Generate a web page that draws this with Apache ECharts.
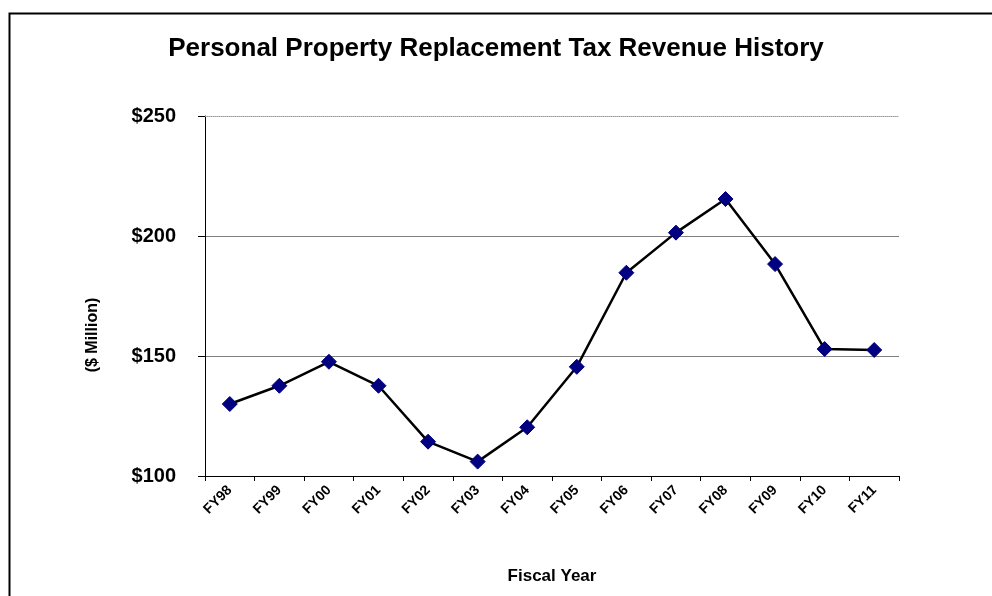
<!DOCTYPE html>
<html>
<head>
<meta charset="utf-8">
<script src="https://cdn.jsdelivr.net/npm/echarts@6/dist/echarts.min.js"></script>
<style>
  html, body { margin: 0; padding: 0; background: #fff; }
  #main { width: 992px; height: 596px; }
</style>
</head>
<body>
<div id="main"></div>
<script>
var years = ["FY98", "FY99", "FY00", "FY01", "FY02", "FY03", "FY04",
             "FY05", "FY06", "FY07", "FY08", "FY09", "FY10", "FY11"];
var revenue = [130, 137.6, 147.6, 137.6, 114.3, 106, 120.3,
               145.5, 184.7, 201.4, 215.4, 188.3, 152.9, 152.5];
var yTicks = [100, 150, 200, 250];

var chart = echarts.init(document.getElementById("main"));
var font = "'Liberation Sans', Arial, sans-serif";

var option = {
  backgroundColor: "#fff",
  animation: false,
  title: {
    text: "Personal Property Replacement Tax Revenue History",
    left: "center",
    top: 31,
    textStyle: { fontFamily: font, fontSize: 26, fontWeight: "bold", color: "#000" }
  },
  graphic: [
    {
      type: "rect",
      left: 7,
      top: 11,
      shape: { width: 1000, height: 600 },
      style: { fill: "none", stroke: "#000", lineWidth: 2 }
    }
  ],
  grid: { left: 205, right: 93, top: 116, bottom: 120 },
  xAxis: [
    {
      type: "category",
      data: years,
      boundaryGap: true,
      name: "Fiscal Year",
      nameLocation: "middle",
      nameGap: 92,
      nameTextStyle: { fontFamily: font, fontSize: 17, fontWeight: "bold", color: "#000" },
      axisLine: { lineStyle: { color: "#000", width: 1 } },
      axisTick: { show: true, length: 5, lineStyle: { color: "#000" } },
      axisLabel: {
        rotate: 45,
        margin: 12,
        fontFamily: font,
        fontSize: 14,
        fontWeight: "bold",
        color: "#000"
      }
    },
    {
      type: "category",
      position: "top",
      data: years,
      axisLine: { lineStyle: { color: "#999", type: "dotted", width: 1 } },
      axisTick: { show: false },
      axisLabel: { show: false }
    }
  ],
  yAxis: {
    type: "value",
    min: yTicks[0],
    max: yTicks[yTicks.length - 1],
    interval: 50,
    name: "($ Million)",
    nameLocation: "middle",
    nameGap: 104,
    nameRotate: 90,
    nameTextStyle: {
      fontFamily: font, fontSize: 16, fontWeight: "bold", color: "#000",
      padding: [0, 78, 0, 0]
    },
    axisLine: { show: true, lineStyle: { color: "#000", width: 1 } },
    axisTick: { show: true, length: 7, lineStyle: { color: "#000" } },
    axisLabel: {
      margin: 29,
      fontFamily: font,
      fontSize: 20,
      fontWeight: "bold",
      color: "#000",
      formatter: "${value}"
    },
    splitLine: {
      show: true,
      lineStyle: { color: ["#808080", "#808080", "#808080", "rgba(0,0,0,0)"], width: 1 }
    }
  },
  series: [
    {
      type: "line",
      data: revenue,
      symbol: "diamond",
      symbolSize: 15,
      lineStyle: { color: "#000", width: 2.5 },
      itemStyle: { color: "#000080", borderColor: "#000080" },
      z: 3
    }
  ]
};

chart.setOption(option);
</script>
</body>
</html>
